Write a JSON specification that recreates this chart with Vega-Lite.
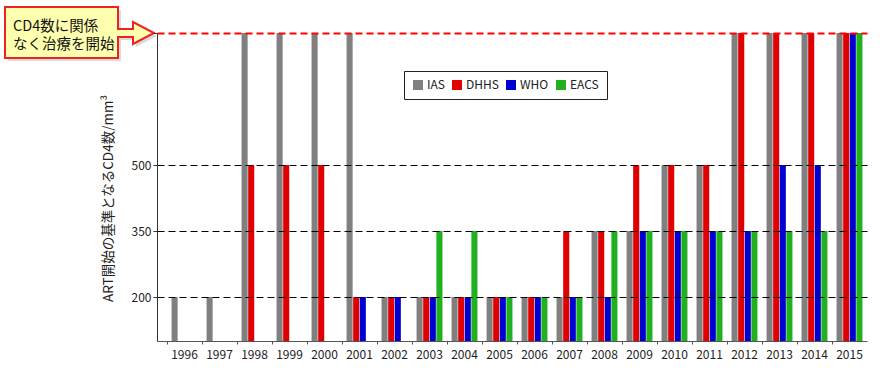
{
  "$schema": "https://vega.github.io/schema/vega-lite/v6.json",
  "autosize": {"type": "none"},
  "padding": {"left": 157, "top": 33, "right": 16, "bottom": 30},
  "width": 710,
  "height": 308,
  "config": {"view": {"stroke": null}, "font": "Noto Sans CJK JP"},
  "datasets": {
    "guidelines": [
      {"year": "1996", "org": "IAS", "cd4": 200},
      {"year": "1997", "org": "IAS", "cd4": 200},
      {"year": "1998", "org": "IAS", "cd4": 800},
      {"year": "1998", "org": "DHHS", "cd4": 500},
      {"year": "1999", "org": "IAS", "cd4": 800},
      {"year": "1999", "org": "DHHS", "cd4": 500},
      {"year": "2000", "org": "IAS", "cd4": 800},
      {"year": "2000", "org": "DHHS", "cd4": 500},
      {"year": "2001", "org": "IAS", "cd4": 800},
      {"year": "2001", "org": "DHHS", "cd4": 200},
      {"year": "2001", "org": "WHO", "cd4": 200},
      {"year": "2002", "org": "IAS", "cd4": 200},
      {"year": "2002", "org": "DHHS", "cd4": 200},
      {"year": "2002", "org": "WHO", "cd4": 200},
      {"year": "2003", "org": "IAS", "cd4": 200},
      {"year": "2003", "org": "DHHS", "cd4": 200},
      {"year": "2003", "org": "WHO", "cd4": 200},
      {"year": "2003", "org": "EACS", "cd4": 350},
      {"year": "2004", "org": "IAS", "cd4": 200},
      {"year": "2004", "org": "DHHS", "cd4": 200},
      {"year": "2004", "org": "WHO", "cd4": 200},
      {"year": "2004", "org": "EACS", "cd4": 350},
      {"year": "2005", "org": "IAS", "cd4": 200},
      {"year": "2005", "org": "DHHS", "cd4": 200},
      {"year": "2005", "org": "WHO", "cd4": 200},
      {"year": "2005", "org": "EACS", "cd4": 200},
      {"year": "2006", "org": "IAS", "cd4": 200},
      {"year": "2006", "org": "DHHS", "cd4": 200},
      {"year": "2006", "org": "WHO", "cd4": 200},
      {"year": "2006", "org": "EACS", "cd4": 200},
      {"year": "2007", "org": "IAS", "cd4": 200},
      {"year": "2007", "org": "DHHS", "cd4": 350},
      {"year": "2007", "org": "WHO", "cd4": 200},
      {"year": "2007", "org": "EACS", "cd4": 200},
      {"year": "2008", "org": "IAS", "cd4": 350},
      {"year": "2008", "org": "DHHS", "cd4": 350},
      {"year": "2008", "org": "WHO", "cd4": 200},
      {"year": "2008", "org": "EACS", "cd4": 350},
      {"year": "2009", "org": "IAS", "cd4": 350},
      {"year": "2009", "org": "DHHS", "cd4": 500},
      {"year": "2009", "org": "WHO", "cd4": 350},
      {"year": "2009", "org": "EACS", "cd4": 350},
      {"year": "2010", "org": "IAS", "cd4": 500},
      {"year": "2010", "org": "DHHS", "cd4": 500},
      {"year": "2010", "org": "WHO", "cd4": 350},
      {"year": "2010", "org": "EACS", "cd4": 350},
      {"year": "2011", "org": "IAS", "cd4": 500},
      {"year": "2011", "org": "DHHS", "cd4": 500},
      {"year": "2011", "org": "WHO", "cd4": 350},
      {"year": "2011", "org": "EACS", "cd4": 350},
      {"year": "2012", "org": "IAS", "cd4": 800},
      {"year": "2012", "org": "DHHS", "cd4": 800},
      {"year": "2012", "org": "WHO", "cd4": 350},
      {"year": "2012", "org": "EACS", "cd4": 350},
      {"year": "2013", "org": "IAS", "cd4": 800},
      {"year": "2013", "org": "DHHS", "cd4": 800},
      {"year": "2013", "org": "WHO", "cd4": 500},
      {"year": "2013", "org": "EACS", "cd4": 350},
      {"year": "2014", "org": "IAS", "cd4": 800},
      {"year": "2014", "org": "DHHS", "cd4": 800},
      {"year": "2014", "org": "WHO", "cd4": 500},
      {"year": "2014", "org": "EACS", "cd4": 350},
      {"year": "2015", "org": "IAS", "cd4": 800},
      {"year": "2015", "org": "DHHS", "cd4": 800},
      {"year": "2015", "org": "WHO", "cd4": 800},
      {"year": "2015", "org": "EACS", "cd4": 800}
    ],
    "callout": [
      {"year": "1996", "cd4": 800, "label": "CD4数に関係\nなく治療を開始"}
    ]
  },
  "layer": [
    {
      "data": {"name": "guidelines"},
      "mark": {"type": "bar", "clip": true},
      "encoding": {
        "x": {
          "field": "year",
          "type": "nominal",
          "scale": {
            "domain": ["1996","1997","1998","1999","2000","2001","2002","2003","2004","2005","2006","2007","2008","2009","2010","2011","2012","2013","2014","2015"],
            "paddingInner": 0,
            "paddingOuter": 0.143,
            "align": 1
          },
          "axis": {
            "title": null,
            "labelAngle": 0,
            "bandPosition": 0,
            "labelFontSize": 12,
            "labelColor": "#222222",
            "labelPadding": 5,
            "tickSize": 3,
            "tickColor": "#555555",
            "domainColor": "#555555",
            "domainWidth": 1,
            "grid": false
          }
        },
        "xOffset": {
          "field": "org",
          "type": "nominal",
          "scale": {"domain": ["IAS","DHHS","WHO","EACS"], "paddingInner": 0.08, "paddingOuter": 0.69}
        },
        "y": {
          "field": "cd4",
          "type": "quantitative",
          "scale": {"domain": [100, 800], "nice": false, "zero": false},
          "axis": {
            "title": "ART開始の基準となるCD4数/mm³",
            "titleFontSize": 13.5,
            "titleFontWeight": "normal",
            "titleColor": "#222222",
            "titlePadding": 16,
            "titleY": 165,
            "values": [200, 350, 500, 800],
            "labelExpr": "datum.value == 800 ? '' : datum.label",
            "labelFontSize": 12,
            "labelColor": "#222222",
            "labelPadding": 2,
            "tickSize": 4,
            "tickColor": "#333333",
            "domainColor": "#333333",
            "grid": true,
            "gridDash": [7, 4],
            "gridColor": {"condition": {"test": "datum.value == 800", "value": "#ff0000"}, "value": "#000000"},
            "gridWidth": {"condition": {"test": "datum.value == 800", "value": 2}, "value": 1.2},
            "zindex": 1
          }
        },
        "color": {
          "field": "org",
          "type": "nominal",
          "scale": {"domain": ["IAS","DHHS","WHO","EACS"], "range": ["#808080","#e00000","#0000d0","#20b020"]},
          "legend": {
            "title": null,
            "orient": "none",
            "legendX": 247,
            "legendY": 38,
            "direction": "horizontal",
            "symbolType": "square",
            "symbolSize": 100,
            "symbolStrokeWidth": 0,
            "labelFontSize": 12,
            "labelColor": "#222222",
            "labelOffset": 3,
            "columnPadding": 6,
            "padding": 8,
            "strokeColor": "#222222",
            "fillColor": "#ffffff"
          }
        }
      }
    },
    {
      "data": {"name": "callout"},
      "mark": {
        "type": "point",
        "shape": "M-159,-23 L-46,-23 L-46,-1 L-31,-1 L-31,-8 L-10,3 L-31,14 L-31,7 L-46,7 L-46,28 L-159,28 Z",
        "size": 4,
        "filled": true,
        "fill": "#999999",
        "opacity": 0.35,
        "strokeWidth": 0
      },
      "encoding": {
        "x": {"field": "year", "type": "nominal", "bandPosition": 0},
        "y": {"field": "cd4", "type": "quantitative"}
      }
    },
    {
      "data": {"name": "callout"},
      "mark": {
        "type": "point",
        "shape": "M-162,-26 L-49,-26 L-49,-4 L-34,-4 L-34,-11 L-13,0 L-34,11 L-34,4 L-49,4 L-49,25 L-162,25 Z",
        "size": 4,
        "filled": true,
        "fill": "#ffffb0",
        "stroke": "#ee2222",
        "strokeWidth": 2,
        "opacity": 1
      },
      "encoding": {
        "x": {"field": "year", "type": "nominal", "bandPosition": 0},
        "y": {"field": "cd4", "type": "quantitative"}
      }
    },
    {
      "data": {"name": "callout"},
      "mark": {
        "type": "text",
        "align": "left",
        "baseline": "middle",
        "dx": -154,
        "dy": -6,
        "fontSize": 14.5,
        "lineHeight": 18,
        "lineBreak": "\n",
        "color": "#111111"
      },
      "encoding": {
        "x": {"field": "year", "type": "nominal", "bandPosition": 0},
        "y": {"field": "cd4", "type": "quantitative"},
        "text": {"field": "label"}
      }
    }
  ]
}
